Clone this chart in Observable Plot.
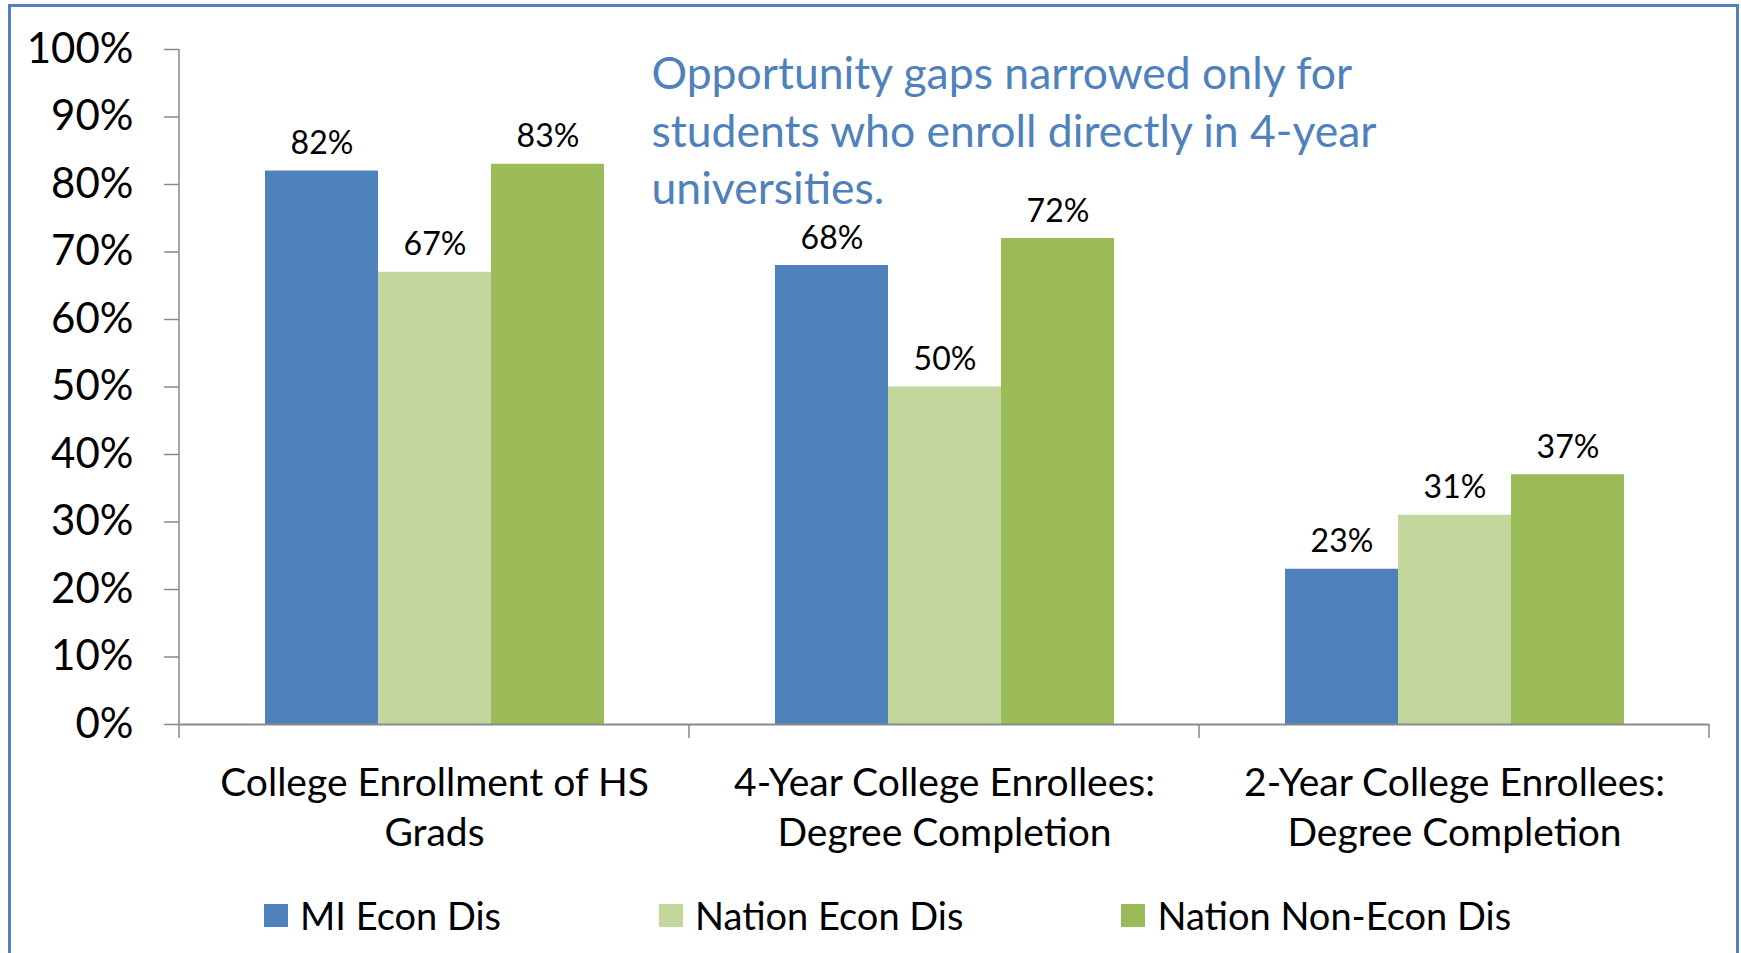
<!DOCTYPE html>
<html>
<head>
<meta charset="utf-8">
<script src="https://cdn.jsdelivr.net/npm/d3@7"></script>
<script src="https://cdn.jsdelivr.net/npm/@observablehq/plot@0.6"></script>
<style>
  html, body { margin: 0; padding: 0; background: #ffffff; overflow: hidden; }
  #wrap { position: relative; width: 1741px; height: 953px; overflow: hidden; background: #fff; }
  #border { position: absolute; left: 8px; top: 4px; width: 1731px; height: 1000px; border: 3px solid #4f81bd; box-sizing: border-box; pointer-events: none; }
  #chart { position: absolute; left: 0; top: 0; }
  #legend { position: absolute; left: 264px; top: 896px; display: flex; align-items: center; font-family: Lato, sans-serif; font-size: 38px; color: #000; }
  .item { display: flex; align-items: center; margin-right: 158px; line-height: 38px; height: 38px; }
  .sw { width: 24px; height: 23px; margin-right: 12px; display: inline-block; }
</style>
</head>
<body>
<div id="wrap">
  <div id="chart"></div>
  <div id="legend"></div>
  <div id="border"></div>
</div>
<script>
// ---- data ----
const categories = [
  "College Enrollment of HS Grads",
  "4-Year College Enrollees: Degree Completion",
  "2-Year College Enrollees: Degree Completion"
];
const categoryLabelLines = [
  ["College Enrollment of HS", "Grads"],
  ["4-Year College Enrollees:", "Degree Completion"],
  ["2-Year College Enrollees:", "Degree Completion"]
];
const series = ["MI Econ Dis", "Nation Econ Dis", "Nation Non-Econ Dis"];
const miEconDis = [82, 68, 23];
const nationEconDis = [67, 50, 31];
const nationNonEconDis = [83, 72, 37];
const seriesColors = ["#4f81bd", "#c3d69b", "#9bbb59"];
const yTicks = [0, 10, 20, 30, 40, 50, 60, 70, 80, 90, 100];
const noteText = "Opportunity gaps narrowed only for\nstudents who enroll directly in 4-year\nuniversities.";

// ---- table ----
const seriesValues = [miEconDis, nationEconDis, nationNonEconDis];
const rows = [];
categories.forEach((c, i) => {
  series.forEach((s, j) => rows.push({category: c, series: s, value: seriesValues[j][i]}));
});
const labelFor = new Map(categories.map((c, i) => [c, categoryLabelLines[i].join("\n")]));

const W = 1741, H = 872;
const axisGray = "#898989";

const plot = Plot.plot({
  width: W,
  height: H,
  marginLeft: 178,
  marginRight: 32,
  marginTop: 49,
  marginBottom: H - 724,
  style: {fontFamily: "Lato, sans-serif", background: "transparent", color: "#000"},
  fx: {domain: categories, padding: 0, label: null},
  x: {domain: series, paddingInner: 0, paddingOuter: 0.75, axis: null},
  y: {domain: [0, 100], label: null},
  color: {domain: series, range: seriesColors},
  marks: [
    Plot.barY(rows, {fx: "category", x: "series", y: "value", fill: "series"}),
    Plot.text(rows, {
      fx: "category", x: "series", y: "value",
      text: d => d.value + "%",
      lineAnchor: "bottom", dy: -17, fontSize: 32, fill: "#000"
    }),
    Plot.ruleY([0], {stroke: axisGray, strokeWidth: 2}),
    Plot.axisY({
      ticks: yTicks, tickSize: 15, tickPadding: 31,
      tickFormat: d => d + "%", fontSize: 42,
      stroke: axisGray, strokeWidth: 1.5, fill: "#000", label: null
    }),
    Plot.axisFx({
      anchor: "bottom",
      tickSize: 0, tickPadding: 35,
      tickFormat: c => labelFor.get(c),
      fontSize: 39, lineHeight: 1.3, fill: "#000", label: null
    }),
    Plot.text([noteText], {
      facet: "super", frameAnchor: "top-left", text: d => d,
      dx: 472, dy: -1, fill: "#4f81bd", fontSize: 44.5, lineHeight: 1.29,
      lineAnchor: "top", textAnchor: "start"
    })
  ]
});

// axis lines drawn from the plot's own scales
const fxS = plot.scale("fx");
const yS = plot.scale("y");
const y0 = yS.apply(0), y100 = yS.apply(100);
const bounds = categories.map(c => fxS.apply(c));
bounds.push(fxS.apply(categories[categories.length - 1]) + fxS.step);
const g = d3.select(plot).append("g").attr("stroke", axisGray);
g.append("line").attr("x1", bounds[0]).attr("x2", bounds[0]).attr("y1", y100).attr("y2", y0).attr("stroke-width", 1.5);
bounds.forEach(b => {
  g.append("line").attr("x1", b).attr("x2", b).attr("y1", y0).attr("y2", y0 + 14).attr("stroke-width", 1.5);
});

document.getElementById("chart").appendChild(plot);

// legend
const legend = d3.select("#legend");
series.forEach((s, i) => {
  const it = legend.append("div").attr("class", "item");
  it.append("span").attr("class", "sw").style("background", seriesColors[i]);
  it.append("span").text(s);
});
</script>
</body>
</html>
